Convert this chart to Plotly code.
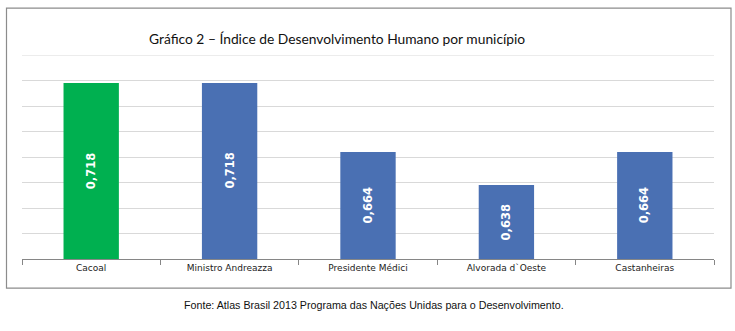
import plotly.graph_objects as go

# IDHM por município (valores dos rótulos)
municipios = ["Cacoal", "Ministro Andreazza", "Presidente Médici", "Alvorada d`Oeste", "Castanheiras"]
idhm = [0.718, 0.718, 0.664, 0.638, 0.664]
cores = ["#00B050", "#4A70B3", "#4A70B3", "#4A70B3", "#4A70B3"]

Y_MIN, Y_MAX = 0.58, 0.74

W, H = 735, 331
L, R, T, B = 22, 714, 55, 259.3  # plot area in pixels


def px(x):
    return (x - L) / (R - L)


def py(y):
    return (B - y) / (B - T)


fig = go.Figure(
    go.Bar(
        x=municipios,
        y=idhm,
        marker=dict(color=cores, line=dict(width=0)),
        width=0.4,
        hoverinfo="skip",
    )
)

# value labels, rotated, centred on the visible part of each bar
labels = [
    dict(
        text=f"{v:.3f}".replace(".", ","),
        x=m,
        y=(Y_MIN + v) / 2,
        xref="x",
        yref="y",
        textangle=-90,
        showarrow=False,
        font=dict(family="DejaVu Sans", size=11.5, color="white", weight="bold"),
    )
    for m, v in zip(municipios, idhm)
]

fig.update_layout(
    width=W,
    height=H,
    margin=dict(l=L, r=W - R, t=T, b=H - B),
    paper_bgcolor="white",
    plot_bgcolor="white",
    showlegend=False,
    xaxis=dict(
        type="category",
        showgrid=False,
        showline=True,
        linecolor="#868686",
        linewidth=1,
        ticks="outside",
        tickson="boundaries",
        ticklen=5,
        tickcolor="#868686",
        tickfont=dict(family="DejaVu Sans", size=9, color="#222222"),
        fixedrange=True,
    ),
    yaxis=dict(
        range=[Y_MIN, Y_MAX],
        dtick=0.02,
        tick0=Y_MIN,
        showgrid=True,
        gridcolor="#D9D9D9",
        gridwidth=1,
        showticklabels=False,
        zeroline=False,
        showline=False,
        fixedrange=True,
    ),
    shapes=[
        dict(
            type="rect",
            xref="paper",
            yref="paper",
            x0=px(6.5),
            x1=px(731),
            y0=py(288.5),
            y1=py(8),
            line=dict(color="#8C8C8C", width=1.2),
            fillcolor="rgba(0,0,0,0)",
            layer="below",
        ),
        # top gridline at the axis maximum
        dict(
            type="line",
            xref="paper",
            yref="y",
            x0=0,
            x1=1,
            y0=Y_MAX,
            y1=Y_MAX,
            line=dict(color="#D9D9D9", width=1),
            layer="below",
        ),
    ],
    annotations=labels + [
        dict(
            text="Gráfico 2 – Índice de Desenvolvimento Humano por município",
            xref="paper",
            yref="paper",
            x=px(147),
            y=py(38),
            xanchor="left",
            yanchor="middle",
            showarrow=False,
            font=dict(family="Lato", size=13.8, color="#111111"),
        ),
        dict(
            text="Fonte: Atlas Brasil 2013 Programa das Nações Unidas para o Desenvolvimento.",
            xref="paper",
            yref="paper",
            x=px(373.5),
            y=py(305.5),
            xanchor="center",
            yanchor="middle",
            showarrow=False,
            font=dict(family="Liberation Sans", size=10.7, color="#111111"),
        ),
    ],
)

fig.write_html("out.html")
